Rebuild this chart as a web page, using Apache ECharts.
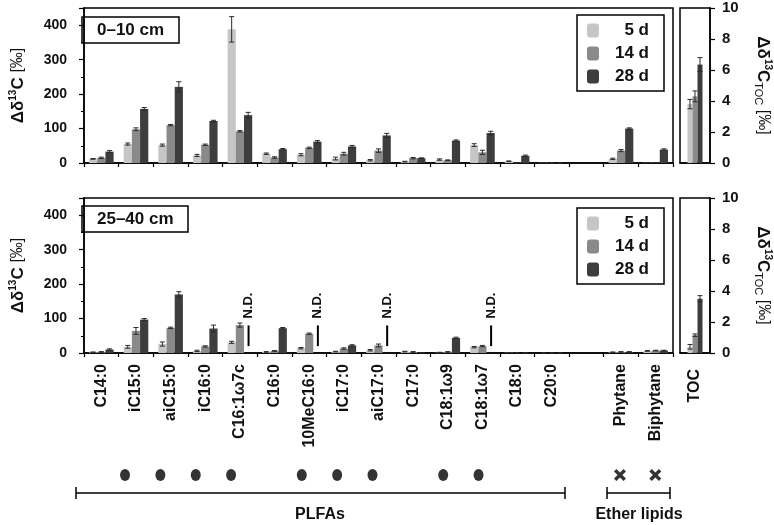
<!DOCTYPE html>
<html><head><meta charset="utf-8">
<script src="https://cdn.jsdelivr.net/npm/echarts@6/dist/echarts.min.js"></script>
<style>html,body{margin:0;padding:0;background:#fff}#c{width:774px;height:525px}</style>
</head><body><div id="c"></div>
<script>
const categories = ['C14:0','iC15:0','aiC15:0','iC16:0','C16:1ω7c','C16:0','10MeC16:0','iC17:0','aiC17:0','C17:0','C18:1ω9','C18:1ω7','C18:0','C20:0','','Phytane','Biphytane'];
const seriesNames = ['5 d','14 d','28 d'];
// 0–10 cm
const top5  = [12, 55, 52, 22, 388, 27, 24, 13, 8, 4, 10, 52, 5, 1, null, 12, 1];
const top14 = [15, 98, 110, 53, 92, 16, 44, 27, 36, 14, 8, 31, 1, 0, null, 36, 1];
const top28 = [33, 157, 221, 122, 139, 40, 62, 48, 80, 14, 65, 87, 21, 0, null, 100, 39];
const top5Err  = [1, 3, 3, 3, 37, 2, 3, 4, 2, 1, 2, 4, 1, 0, null, 2, 0];
const top14Err = [2, 4, 2, 2, 2, 2, 2, 4, 5, 2, 1, 6, 0, 0, null, 3, 0];
const top28Err = [3, 4, 15, 2, 8, 2, 3, 3, 6, 1, 2, 5, 2, 0, null, 2, 2];
// 25–40 cm
const bot5  = [2, 18, 26, 6, 31, 3, 14, 4, 8, 4, 1, 17, 1, 0, null, 2, 6];
const bot14 = [3, 64, 73, 19, 81, 6, 56, 13, 22, 3, 3, 20, 0, 0, null, 3, 7];
const bot28 = [10, 97, 170, 71, null, 72, null, 22, null, 1, 44, null, 0, 0, null, 3, 7];
const bot5Err  = [1, 4, 6, 2, 3, 1, 2, 1, 2, 1, 1, 2, 0, 0, null, 1, 1];
const bot14Err = [1, 10, 2, 2, 6, 1, 2, 2, 4, 1, 1, 2, 0, 0, null, 1, 1];
const bot28Err = [2, 3, 8, 10, null, 2, null, 2, null, 0, 2, null, 0, 0, null, 1, 1];
const notDetected = ['C16:1ω7c','10MeC16:0','aiC17:0','C18:1ω7'];
// TOC
const tocTop = [3.8, 4.3, 6.35];
const tocTopErr = [0.3, 0.35, 0.45];
const tocBot = [0.4, 1.15, 3.5];
const tocBotErr = [0.15, 0.08, 0.2];
// markers
const plfaMarked = ['iC15:0','aiC15:0','iC16:0','C16:1ω7c','10MeC16:0','iC17:0','aiC17:0','C18:1ω9','C18:1ω7'];
const etherMarked = ['Phytane','Biphytane'];

const colors = ['#c6c6c6','#8a8a8a','#3d3d3d'];
const FONT = 'Liberation Sans';

function errSeries(xi, yi, vals, errs, off, name) {
  const data = [];
  vals.forEach((v, i) => { if (v != null && errs[i] != null) data.push([i, v, errs[i]]); });
  return {
    type: 'custom', name: name, xAxisIndex: xi, yAxisIndex: yi, z: 5, silent: true,
    data: data,
    renderItem: function (params, api) {
      const idx = api.value(0), v = api.value(1), e = api.value(2);
      const bw = api.size([1, 0])[0];
      const c = api.coord([idx, v]);
      const x = c[0] + off * bw;
      const yt = api.coord([idx, v + e])[1];
      const yb = api.coord([idx, Math.max(0, v - e)])[1];
      const cap = 2.5;
      const st = { stroke: '#2a2a2a', lineWidth: 1 };
      return { type: 'group', children: [
        { type: 'line', shape: { x1: x, y1: yt, x2: x, y2: yb }, style: st },
        { type: 'line', shape: { x1: x - cap, y1: yt, x2: x + cap, y2: yt }, style: st },
        { type: 'line', shape: { x1: x - cap, y1: yb, x2: x + cap, y2: yb }, style: st }
      ]};
    }
  };
}

function barSeries(xi, yi, vals, k, gap) {
  return { type: 'bar', name: seriesNames[k], xAxisIndex: xi, yAxisIndex: yi, data: vals,
    barGap: '0%', barCategoryGap: gap, itemStyle: { color: colors[k] }, silent: true };
}

const mainY = (gi) => ({
  gridIndex: gi, type: 'value', min: 0, max: 450, interval: 100,
  axisLine: { show: true, lineStyle: { color: '#000', width: 1.5 } },
  axisTick: { show: true, length: 5, lineStyle: { color: '#000', width: 1.2 } },
  minorTick: { show: true, splitNumber: 2, length: 3, lineStyle: { color: '#000' } },
  splitLine: { show: false },
  axisLabel: { showMaxLabel: false, fontFamily: FONT, fontWeight: 'bold', fontSize: 14, color: '#111', margin: 17 },
  name: '{b|Δδ}{s|13}{b|C }{n|[‰]}', nameLocation: 'middle', nameGap: 56, nameRotate: 90,
  nameTextStyle: { rich: {
    b: { fontFamily: FONT, fontWeight: 'bold', fontSize: 17, color: '#111', lineHeight: 20 },
    s: { fontFamily: FONT, fontWeight: 'bold', fontSize: 10, color: '#111', verticalAlign: 'top' },
    n: { fontFamily: FONT, fontSize: 16, color: '#111', lineHeight: 20 } } }
});
const tocY = (gi) => ({
  gridIndex: gi, type: 'value', position: 'right', min: 0, max: 10, interval: 2,
  axisLine: { show: true, lineStyle: { color: '#000', width: 1.5 } },
  axisTick: { show: true, length: 5, lineStyle: { color: '#000', width: 1.2 } },
  splitLine: { show: false },
  axisLabel: { fontFamily: FONT, fontWeight: 'bold', fontSize: 15, color: '#111', margin: 12 },
  name: '{b|Δδ}{s|13}{b|C}{t|TOC}{n| [‰]}', nameLocation: 'middle', nameGap: 43, nameRotate: -90,
  nameTextStyle: { rich: {
    b: { fontFamily: FONT, fontWeight: 'bold', fontSize: 17, color: '#111', lineHeight: 20 },
    s: { fontFamily: FONT, fontWeight: 'bold', fontSize: 10, color: '#111', verticalAlign: 'top' },
    t: { fontFamily: FONT, fontSize: 11, color: '#111', verticalAlign: 'bottom' },
    n: { fontFamily: FONT, fontSize: 16, color: '#111', lineHeight: 20 } } }
});
const mainX = (gi, showLabels) => ({
  gridIndex: gi, type: 'category', data: categories,
  axisLine: { show: true, lineStyle: { color: '#000', width: 1.5 } },
  axisTick: { show: true, length: 4, lineStyle: { color: '#000', width: 1.2 } },
  axisLabel: { show: showLabels, rotate: 90, interval: 0, fontFamily: FONT, fontWeight: 'bold', fontSize: 16, color: '#111', margin: 11 }
});
const tocX = (gi, showLabels) => ({
  gridIndex: gi, type: 'category', data: ['TOC'],
  axisLine: { show: true, lineStyle: { color: '#000', width: 1.5 } },
  axisTick: { show: false },
  axisLabel: { show: showLabels, rotate: 90, fontFamily: FONT, fontWeight: 'bold', fontSize: 16, color: '#111', margin: 16 }
});

const gridBox = { show: true, borderColor: '#000', borderWidth: 1.5 };
const series = [];
[[0,1,top5,top14,top28,top5Err,top14Err,top28Err,tocTop,tocTopErr],[2,3,bot5,bot14,bot28,bot5Err,bot14Err,bot28Err,tocBot,tocBotErr]].forEach(p => {
  const [m, t, a, b, c, ea, eb, ec, toc, tocE] = p;
  const vals = [a, b, c], errs = [ea, eb, ec], offs = [-0.238, 0, 0.238];
  for (let k = 0; k < 3; k++) series.push(barSeries(m, m, vals[k], k, '29%'));
  for (let k = 0; k < 3; k++) series.push(errSeries(m, m, vals[k], errs[k], offs[k], 'err' + m + k));
  for (let k = 0; k < 3; k++) {
    series.push(barSeries(t, t, [toc[k]], k, '50%'));
    series.push(errSeries(t, t, [toc[k]], [tocE[k]], [-0.167, 0, 0.167][k], 'terr' + t + k));
  }
});
// N.D. markers
series.push({
  type: 'custom', name: 'nd', xAxisIndex: 2, yAxisIndex: 2, z: 6, silent: true,
  data: notDetected.map(n => [categories.indexOf(n), 20, 80, 100]),
  renderItem: function (params, api) {
    const idx = api.value(0);
    const bw = api.size([1, 0])[0];
    const p1 = api.coord([idx, api.value(1)]);
    const p2 = api.coord([idx, api.value(2)]);
    const p3 = api.coord([idx, api.value(3)]);
    const x = p1[0] + 0.25 * bw;
    return { type: 'group', children: [
      { type: 'line', shape: { x1: x, y1: p1[1], x2: x, y2: p2[1] }, style: { stroke: '#000', lineWidth: 2 } },
      { type: 'text', x: x, y: p3[1], rotation: Math.PI / 2,
        style: { text: 'N.D.', fontFamily: FONT, fontWeight: 'bold', fontSize: 13, fill: '#111', align: 'left', verticalAlign: 'middle' } }
    ]};
  }
});
// group markers
series.push({ type: 'scatter', name: 'plfa', xAxisIndex: 4, yAxisIndex: 4, silent: true,
  data: plfaMarked.map(n => [n, 0]), symbol: 'circle', symbolSize: [10, 12], itemStyle: { color: '#000' } });
series.push({ type: 'scatter', name: 'ether', xAxisIndex: 4, yAxisIndex: 4, silent: true,
  data: etherMarked.map(n => [n, 0]), symbolSize: 12,
  symbol: 'path://M2,0 L5,3 L8,0 L10,2 L7,5 L10,8 L8,10 L5,7 L2,10 L0,8 L3,5 L0,2 Z', itemStyle: { color: '#000' } });

const legendStyle = (top) => ({
  data: seriesNames, orient: 'vertical', left: 577, top: top,
  borderColor: '#000', borderWidth: 1.5, padding: [7, 15, 6, 10], itemGap: 6,
  itemWidth: 12, itemHeight: 14, selectedMode: false,
  formatter: n => '{a|' + n + '}',
  textStyle: { rich: { a: { width: 45, align: 'right', fontFamily: FONT, fontWeight: 'bold', fontSize: 17, color: '#111', lineHeight: 17 } } }
});

const labelTitle = (txt, top) => ({
  text: txt, left: 82, top: top, borderColor: '#000', borderWidth: 1.5, padding: [4, 15, 4, 15],
  textStyle: { fontFamily: FONT, fontWeight: 'bold', fontSize: 17, color: '#111', lineHeight: 18 }
});

const ln = (x1, y1, x2, y2) => ({ type: 'line', shape: { x1, y1, x2, y2 }, style: { stroke: '#000', lineWidth: 1.5 }, silent: true });
const option = {
  animation: false,
  backgroundColor: '#fff',
  title: [labelTitle('0–10 cm', 17), labelTitle('25–40 cm', 206)],
  legend: [legendStyle(15), legendStyle(208)],
  grid: [
    Object.assign({ left: 72, top: 8, width: 601, height: 155 }, gridBox),
    Object.assign({ left: 680, top: 8, width: 35, height: 155 }, gridBox),
    Object.assign({ left: 72, top: 198, width: 601, height: 155 }, gridBox),
    Object.assign({ left: 680, top: 198, width: 35, height: 155 }, gridBox),
    { left: 72, top: 465, width: 601, height: 20, show: false }
  ],
  xAxis: [mainX(0, false), tocX(1, false), mainX(2, true), tocX(3, true),
    { gridIndex: 4, type: 'category', data: categories, show: false }],
  yAxis: [mainY(0), tocY(1), mainY(2), tocY(3),
    { gridIndex: 4, type: 'value', min: -1, max: 1, show: false }],
  series: series,
  graphic: [
    ln(76, 493, 565, 493), ln(76, 487, 76, 499), ln(565, 487, 565, 499),
    ln(607, 493, 670, 493), ln(607, 487, 607, 499), ln(670, 487, 670, 499),
    { type: 'text', x: 320, y: 515, style: { text: 'PLFAs', fontFamily: FONT, fontWeight: 'bold', fontSize: 16, fill: '#111', align: 'center', verticalAlign: 'middle' } },
    { type: 'text', x: 639, y: 515, style: { text: 'Ether lipids', fontFamily: FONT, fontWeight: 'bold', fontSize: 16, fill: '#111', align: 'center', verticalAlign: 'middle' } }
  ]
};
const chart = echarts.init(document.getElementById('c'), null, { renderer: 'canvas' });
chart.setOption(option);
</script></body></html>
